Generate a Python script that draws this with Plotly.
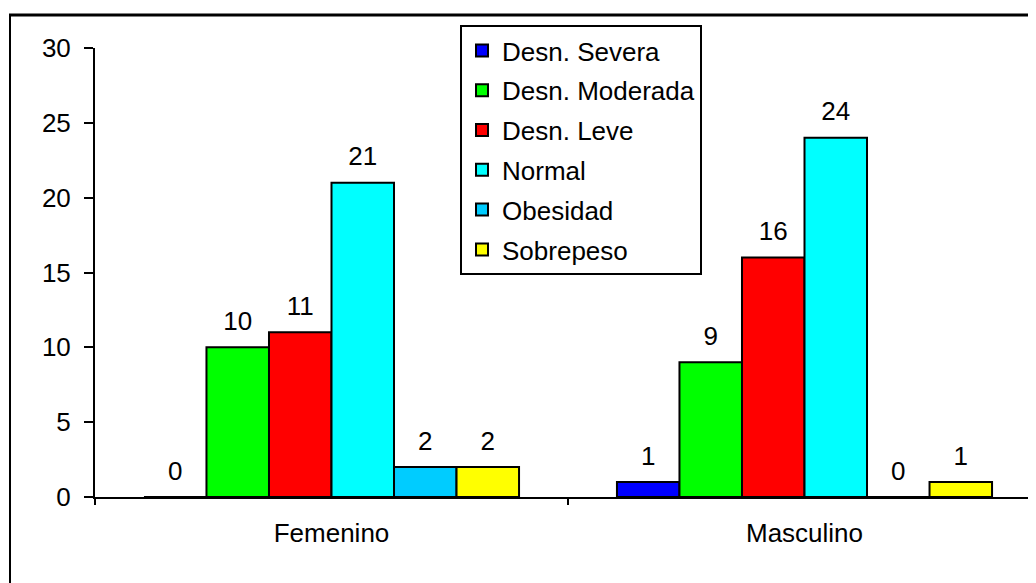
import plotly.graph_objects as go

categories = ["Femenino", "Masculino"]
series_names = ["Desn. Severa", "Desn. Moderada", "Desn. Leve", "Normal", "Obesidad", "Sobrepeso"]
desn_severa = [0, 1]
desn_moderada = [10, 9]
desn_leve = [11, 16]
normal = [21, 24]
obesidad = [2, 0]
sobrepeso = [2, 1]
y_ticks = [0, 5, 10, 15, 20, 25, 30]

values = [desn_severa, desn_moderada, desn_leve, normal, obesidad, sobrepeso]
colors = ["#0000FF", "#00FF00", "#FF0000", "#00FFFF", "#00CCFF", "#FFFF00"]

FONT = "Liberation Sans, Arial, sans-serif"
FS = 26

fig = go.Figure()
for name, vals, col in zip(series_names, values, colors):
    fig.add_trace(go.Bar(
        x=categories, y=vals, name=name, legendgroup=name,
        marker=dict(color=col, line=dict(color="black", width=2)),
        hoverinfo="skip",
    ))
for name, vals in zip(series_names, values):
    fig.add_trace(go.Scatter(
        x=categories, y=vals, mode="markers+text", text=[str(v) for v in vals],
        textposition="top center", showlegend=False, legendgroup=name,
        marker=dict(size=16, opacity=0), textfont=dict(family=FONT, size=FS, color="black"),
        hoverinfo="skip", cliponaxis=False,
    ))

# page has an 8px body margin: figure coords = page coords - 8
OFF = 8
W, H = 1028, 575
L, T, B = 87, 40, 86
pw, ph = W - L, H - T - B
cat_px = 473
x_end = -0.5 + pw / cat_px

def px_to_paper_x(px):
    return (px - OFF - L) / pw

def py_to_paper_y(py):
    return (H - B - (py - OFF)) / ph

fig.update_layout(
    width=W, height=H,
    margin=dict(l=L, r=0, t=T, b=B),
    paper_bgcolor="white", plot_bgcolor="white",
    barmode="group", bargap=0.207, bargroupgap=0,
    scattermode="group", scattergap=0.207,
    font=dict(family=FONT, size=FS, color="black"),
    showlegend=True,
    legend=dict(
        x=px_to_paper_x(460), y=py_to_paper_y(25), xanchor="left", yanchor="top",
        bordercolor="black", borderwidth=2, bgcolor="white",
        font=dict(family=FONT, size=FS, color="black"),
        tracegroupgap=3, traceorder="grouped", itemwidth=30,
    ),
    xaxis=dict(
        type="category", range=[-0.5, x_end],
        showline=True, linecolor="black", linewidth=2,
        ticks="outside", tickson="boundaries", ticklen=6, tickwidth=2, tickcolor="black",
        showgrid=False, zeroline=False, ticklabelstandoff=12,
        tickfont=dict(family=FONT, size=FS, color="black"),
    ),
    yaxis=dict(
        range=[0, 30], tickvals=y_ticks, ticktext=[str(t) for t in y_ticks],
        showline=True, linecolor="black", linewidth=2,
        ticks="outside", ticklen=9, tickwidth=2, tickcolor="black",
        showgrid=False, zeroline=False, ticklabelstandoff=8,
        tickfont=dict(family=FONT, size=FS, color="black"),
    ),
    shapes=[
        dict(type="line", xref="paper", yref="paper",
             x0=px_to_paper_x(10), x1=px_to_paper_x(10),
             y0=py_to_paper_y(15), y1=py_to_paper_y(600),
             line=dict(color="black", width=2)),
        dict(type="line", xref="paper", yref="paper",
             x0=px_to_paper_x(9), x1=px_to_paper_x(1050),
             y0=py_to_paper_y(15), y1=py_to_paper_y(15),
             line=dict(color="black", width=3)),
    ],
)

fig.write_html("out.html")
